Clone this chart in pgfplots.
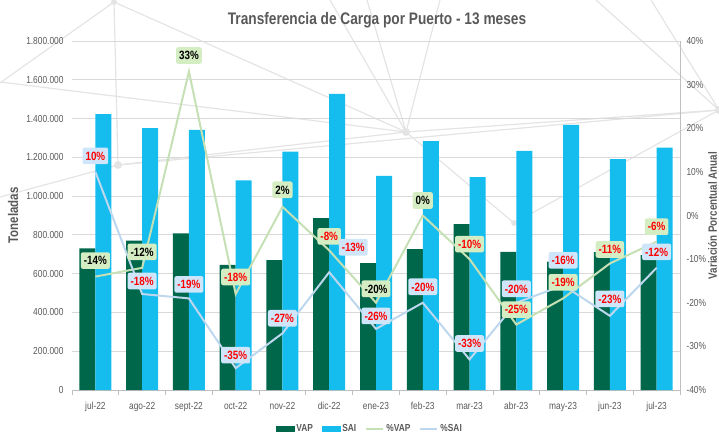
\documentclass[border=0pt]{standalone}
\usepackage{fontspec}
\setmainfont{Liberation Sans}[FakeStretch=0.82]
\usepackage{pgfplots}
\usepackage{pgfplotstable}
\pgfplotsset{compat=1.18}

\definecolor{vapgreen}{HTML}{00674B}
\definecolor{saiblue}{HTML}{14BDEE}
\definecolor{vapline}{HTML}{C5E0B4}
\definecolor{sailine}{HTML}{BDD7EE}
\definecolor{vapbox}{HTML}{D5EDC3}
\definecolor{saibox}{HTML}{CFE6FA}
\definecolor{labred}{HTML}{FF0000}
\definecolor{txtgray}{HTML}{595959}
\definecolor{gridgray}{HTML}{D9D9D9}
\definecolor{axisgray}{HTML}{BFBFBF}
\definecolor{netgray}{HTML}{E4E4E4}

% toneladas por mes
\pgfplotstableread{
x vap sai
0 731000 1423000
1 770000 1351000
2 808000 1342000
3 645000 1081000
4 670000 1229000
5 887000 1527000
6 655000 1105000
7 727000 1284000
8 855000 1098000
9 713000 1233000
10 662000 1367000
11 711000 1191000
12 695000 1250000
}\tons

% variacion anual, con desplazamiento de la etiqueta (r=1: texto rojo)
\pgfplotstableread{
x v dx dy r
0 -14 0 16 0
1 -12 0 16 0
2 33 0 16 0
3 -18 0 17 1
4 2 0 17 0
5 -8 0 14 1
6 -20 0 14 0
7 0 0 15 0
8 -10 0 15 1
9 -25 0 15 1
10 -19 0 16 1
11 -11 0 14 1
12 -6 0 15 1
}\pvap

\pgfplotstableread{
x v dx dy r
0 10 0 16 1
1 -18 0 13 1
2 -19 0 14 1
3 -35 0 13 1
4 -27 0 15 1
5 -13 24 25 1
6 -26 0 13 1
7 -20 0 16 1
8 -33 0 16 1
9 -20 0 14 1
10 -16 0 25 1
11 -23 0 17 1
12 -12 0 16 1
}\psai

\pgfplotsset{
  pctlabels/.style={
    draw=none, mark=none, forget plot,
    point meta=y,
    visualization depends on={\thisrow{dx} \as \dx},
    visualization depends on={\thisrow{dy} \as \dy},
    visualization depends on={\thisrow{r} \as \isred},
    nodes near coords={\ifdim\isred pt>0.5pt\color{labred}\fi\pgfmathprintnumber[assume math mode=true]{\pgfplotspointmeta}\%},
    nodes near coords style={anchor=center, xshift=\dx pt, yshift=\dy pt,
      fill=#1, rounded corners=2pt, inner xsep=3pt, inner ysep=4pt,
      text height=8.6pt, text depth=0pt, text=black,
      font=\bfseries\fontsize{12}{14}\selectfont},
  },
}

\begin{document}
\begin{tikzpicture}
  % red de fondo
  \begin{scope}[x=1pt, y=-1pt, shift={(0pt,434pt)}, netgray, line width=1.2pt]
    \draw (114,2) -- (118,165);
    \draw (114,2) -- (0,83);
    \draw (114,2) -- (406,132);
    \draw (118,165) -- (406,132);
    \draw (118,165) -- (0,197);
    \draw (118,165) -- (719,110);
    \draw (0,82) -- (406,132);
    \draw (406,132) -- (719,110);
    \draw (406,132) -- (330,0);
    \draw (406,132) -- (367,0);
    \draw (406,132) -- (440,0);
    \draw (406,132) -- (514,223);
    \draw (719,110) -- (596,0);
    \draw (719,110) -- (651,0);
    \draw (719,110) -- (514,223);
    \fill (114,2) circle (3);
    \fill (118,165) circle (4);
    \fill (406,132) circle (4);
    \fill (719,110) circle (4);
    \fill (514,223) circle (3);
  \end{scope}

  \begin{axis}[
    at={(72pt,44pt)}, anchor=south west,
    width=608pt, height=349pt, scale only axis,
    xmin=-0.5, xmax=12.5,
    ymin=0, ymax=1800000,
    ybar=0pt, bar width=16pt,
    xtick={0,...,12},
    xticklabels={jul-22,ago-22,sept-22,oct-22,nov-22,dic-22,ene-23,feb-23,mar-23,abr-23,may-23,jun-23,jul-23},
    minor xtick={-0.5,0.5,...,12.5},
    ytick={0,200000,...,1800000},
    scaled y ticks=false,
    /pgf/number format/assume math mode=true,
    axis x line*=bottom, axis y line*=left,
    y axis line style={draw=none},
    x axis line style={draw=axisgray, line width=0.8pt},
    major tick length=0pt, minor tick length=5pt, tick align=outside,
    minor tick style={axisgray, line width=0.8pt},
    ymajorgrids, grid style={gridgray, line width=0.8pt},
    ticklabel style={font=\fontsize{10.2}{12}\selectfont, text=txtgray},
    xticklabel style={yshift=-9pt},
    yticklabel style={xshift=-5pt, /pgf/number format/.cd, fixed, 1000 sep={.}},
    ylabel={Toneladas},
    ylabel style={at={(axis description cs:-0.097,0.5)}, anchor=center,
      font=\bfseries\fontsize{14}{16}\selectfont, text=txtgray},
  ]
    \addplot[fill=vapgreen, draw=none] table[x=x, y=vap] {\tons};
    \addplot[fill=saiblue, draw=none] table[x=x, y=sai] {\tons};
  \end{axis}

  \begin{axis}[
    at={(72pt,44pt)}, anchor=south west,
    width=608pt, height=349pt, scale only axis,
    xmin=-0.5, xmax=12.5,
    ymin=-40, ymax=40,
    axis x line=none, axis y line*=right,
    y axis line style={draw=axisgray, line width=0.8pt},
    ytick={-40,-30,...,40},
    major tick length=0pt,
    /pgf/number format/assume math mode=true,
    yticklabel={\pgfmathprintnumber{\tick}\%},
    ticklabel style={font=\fontsize{10.2}{12}\selectfont, text=txtgray},
    yticklabel style={xshift=3pt},
    ylabel={Variación Porcentual Anual},
    ylabel style={at={(axis description cs:1.0535,0.5)}, anchor=center, inner sep=0pt,
      font=\bfseries\fontsize{12}{14}\selectfont, text=txtgray},
    clip=false,
    legend columns=-1,
    legend style={at={(axis description cs:0.49,-0.112)}, anchor=center,
      draw=none, fill=none, font=\bfseries\fontsize{10.2}{12}\selectfont,
      text=txtgray, /tikz/every even column/.append style={column sep=7pt}},
  ]
    \addlegendimage{legend image code/.code={\fill[vapgreen] (0pt,-2.5pt) rectangle (18pt,2.5pt);}}
    \addlegendentry{VAP}
    \addlegendimage{legend image code/.code={\fill[saiblue] (0pt,-2.5pt) rectangle (18pt,2.5pt);}}
    \addlegendentry{SAI}
    \addplot[vapline, line width=2pt, mark=none] table[x=x, y=v] {\pvap};
    \addlegendentry{\%VAP}
    \addplot[sailine, line width=2pt, mark=none] table[x=x, y=v] {\psai};
    \addlegendentry{\%SAI}
    \addplot[pctlabels=vapbox] table[x=x, y=v] {\pvap};
    \addplot[pctlabels=saibox] table[x=x, y=v] {\psai};
  \end{axis}

  \node[font=\bfseries\fontsize{16.7}{19}\selectfont, text=txtgray] at (377pt,414pt)
    {Transferencia de Carga por Puerto - 13 meses};

  \pgfresetboundingbox
  \path (0pt,0pt) rectangle (719pt,434pt);
\end{tikzpicture}
\end{document}
